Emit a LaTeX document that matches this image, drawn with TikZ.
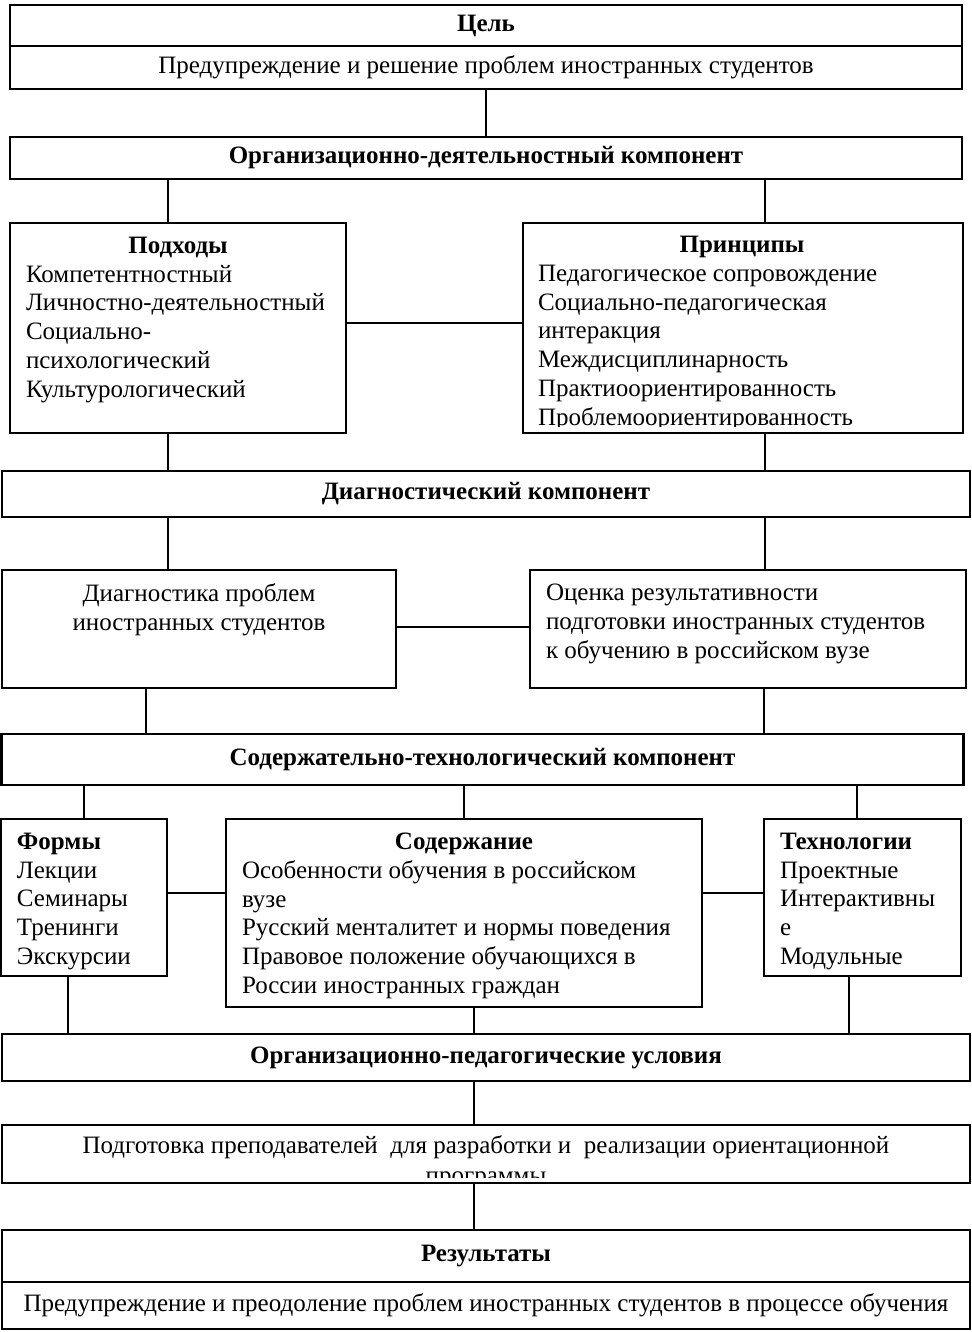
\documentclass[tikz,border=0pt]{standalone}
\usepackage{fontspec}
\setmainfont{Liberation Serif}
\usepackage{tikz}

\tikzset{
  box/.style={draw, line width=1.35pt, inner sep=0pt, align=center},
  hdr/.style={box, font=\fontsize{12.5pt}{14.4pt}\selectfont\bfseries},
  link/.style={line width=0.7pt}
}

\begin{document}
\begin{tikzpicture}[x=0.5pt, y=-0.5pt, every node/.append style={font=\fontsize{12.5pt}{14.4pt}\selectfont}]
\useasboundingbox (0,0) rectangle (972,1332);

% goal
\node[hdr, minimum width=476pt, minimum height=20.5pt] (celh) at (486,25.5) {Цель};
\node[box, minimum width=476pt, minimum height=21.5pt] (celb) at (486,67.5) {Предупреждение и решение проблем иностранных студентов};

% organisational component
\node[hdr, minimum width=476pt, minimum height=21pt] (org1) at (486,158) {Организационно-деятельностный компонент};
\node[box, minimum width=168pt, minimum height=105pt] (podh) at (178,328)
  {\parbox[c][91pt][t]{152pt}{\makebox[\linewidth]{\textbf{Подходы}}\\
   Компетентностный\\ Личностно-деятельностный\\ Социально-\\ психологический\\ Культурологический}};
\node[box, minimum width=220pt, minimum height=105pt] (princ) at (743,328) {};
\begin{scope}
\clip ([yshift=4pt]princ.south west) rectangle (princ.north east);
\node[anchor=north west, inner sep=0pt] (princt) at ([shift={(8pt,-7pt)}]princ.north west)
  {\parbox[t]{204pt}{\makebox[\linewidth]{\textbf{Принципы}}\\
   Педагогическое сопровождение\\ Социально-педагогическая\\ интеракция\\
   Междисциплинарность\\ Практиоориентированность\\ Проблемоориентированность}};
\end{scope}

% diagnostic component
\node[hdr, minimum width=484pt, minimum height=23pt] (diag) at (486,494) {Диагностический компонент};
\node[box, minimum width=197pt, minimum height=59pt] (dprob) at (199,629)
  {\parbox[c][45pt][t]{181pt}{\centering Диагностика проблем\\ иностранных студентов}};
\node[box, minimum width=218pt, minimum height=59pt] (ocen) at (748,629)
  {\parbox[c][45pt][t]{202pt}{Оценка результативности\\ подготовки иностранных студентов\\ к обучению в российском вузе}};

% content and technology component
\node[hdr, minimum width=481pt, minimum height=25.5pt] (sodt) at (482.5,759.5) {Содержательно-технологический компонент};
\node[box, minimum width=83pt, minimum height=78.5pt] (form) at (84,897.5)
  {\parbox[c][64.5pt][t]{67pt}{\textbf{Формы}\\ Лекции\\ Семинары\\ Тренинги\\ Экскурсии}};
\node[box, minimum width=238pt, minimum height=94pt] (sod) at (464,913)
  {\parbox[c][80pt][t]{222pt}{\makebox[\linewidth]{\textbf{Содержание}}\\
   Особенности обучения в российском\\ вузе\\ Русский менталитет и нормы поведения\\
   Правовое положение обучающихся в\\ России иностранных граждан}};
\node[box, minimum width=98.5pt, minimum height=78.5pt] (tech) at (862.5,897.5)
  {\parbox[c][64.5pt][t]{82.5pt}{\textbf{Технологии}\\ Проектные\\ Интерактивны\\ е\\ Модульные}};

% conditions
\node[hdr, minimum width=484pt, minimum height=23.5pt] (orgp) at (486,1057.5) {Организационно-педагогические условия};
\node[box, minimum width=484pt, minimum height=29pt] (podg) at (486,1154) {};
\begin{scope}
\clip ([yshift=3.5pt]podg.south west) rectangle (podg.north east);
\node[anchor=north, inner sep=0pt] (podgt) at ([yshift=-6pt]podg.north)
  {\parbox[t]{470pt}{\centering Подготовка преподавателей~ для разработки и~ реализации ориентационной\\[0.6pt] программы}};
\end{scope}

% results
\node[hdr, minimum width=484pt, minimum height=26pt] (resh) at (486,1256) {Результаты};
\node[box, minimum width=484pt, minimum height=23.5pt] (resb) at (486,1305.5) {Предупреждение и преодоление проблем иностранных студентов в процессе обучения};

% connectors
\draw[link] (celb) -- (org1);
\draw[link] ([xshift=-5pt]podh.north) -- ([xshift=-5pt]podh.north |- org1.south);
\draw[link] ([xshift=11pt]princ.north) -- ([xshift=11pt]princ.north |- org1.south);
\draw[link] ([yshift=2.5pt]podh.east) -- ([yshift=2.5pt]podh.east -| princ.west);
\draw[link] ([xshift=-5pt]podh.south) -- ([xshift=-5pt]podh.south |- diag.north);
\draw[link] ([xshift=11pt]princ.south) -- ([xshift=11pt]princ.south |- diag.north);
\draw[link] ([xshift=-15.5pt]dprob.north) -- ([xshift=-15.5pt]dprob.north |- diag.south);
\draw[link] ([xshift=8.5pt]ocen.north) -- ([xshift=8.5pt]ocen.north |- diag.south);
\draw[link] ([yshift=1pt]dprob.east) -- ([yshift=1pt]dprob.east -| ocen.west);
\draw[link] ([xshift=-26.5pt]dprob.south) -- ([xshift=-26.5pt]dprob.south |- sodt.north);
\draw[link] ([xshift=8pt]ocen.south) -- ([xshift=8pt]ocen.south |- sodt.north);
\draw[link] (form.north) -- (form.north |- sodt.south);
\draw[link] (sod.north) -- (sod.north |- sodt.south);
\draw[link] ([xshift=-2.75pt]tech.north) -- ([xshift=-2.75pt]tech.north |- sodt.south);
\draw[link] ([yshift=2.25pt]form.east) -- ([yshift=2.25pt]form.east -| sod.west);
\draw[link] ([yshift=2.25pt]tech.west) -- ([yshift=2.25pt]tech.west -| sod.east);
\draw[link] ([xshift=-8pt]form.south) -- ([xshift=-8pt]form.south |- orgp.north);
\draw[link] ([xshift=5pt]sod.south) -- ([xshift=5pt]sod.south |- orgp.north);
\draw[link] ([xshift=-6.75pt]tech.south) -- ([xshift=-6.75pt]tech.south |- orgp.north);
\draw[link] ([xshift=-6pt]orgp.south) -- ([xshift=-6pt]orgp.south |- podg.north);
\draw[link] ([xshift=-6pt]podg.south) -- ([xshift=-6pt]podg.south |- resh.north);
\end{tikzpicture}
\end{document}
